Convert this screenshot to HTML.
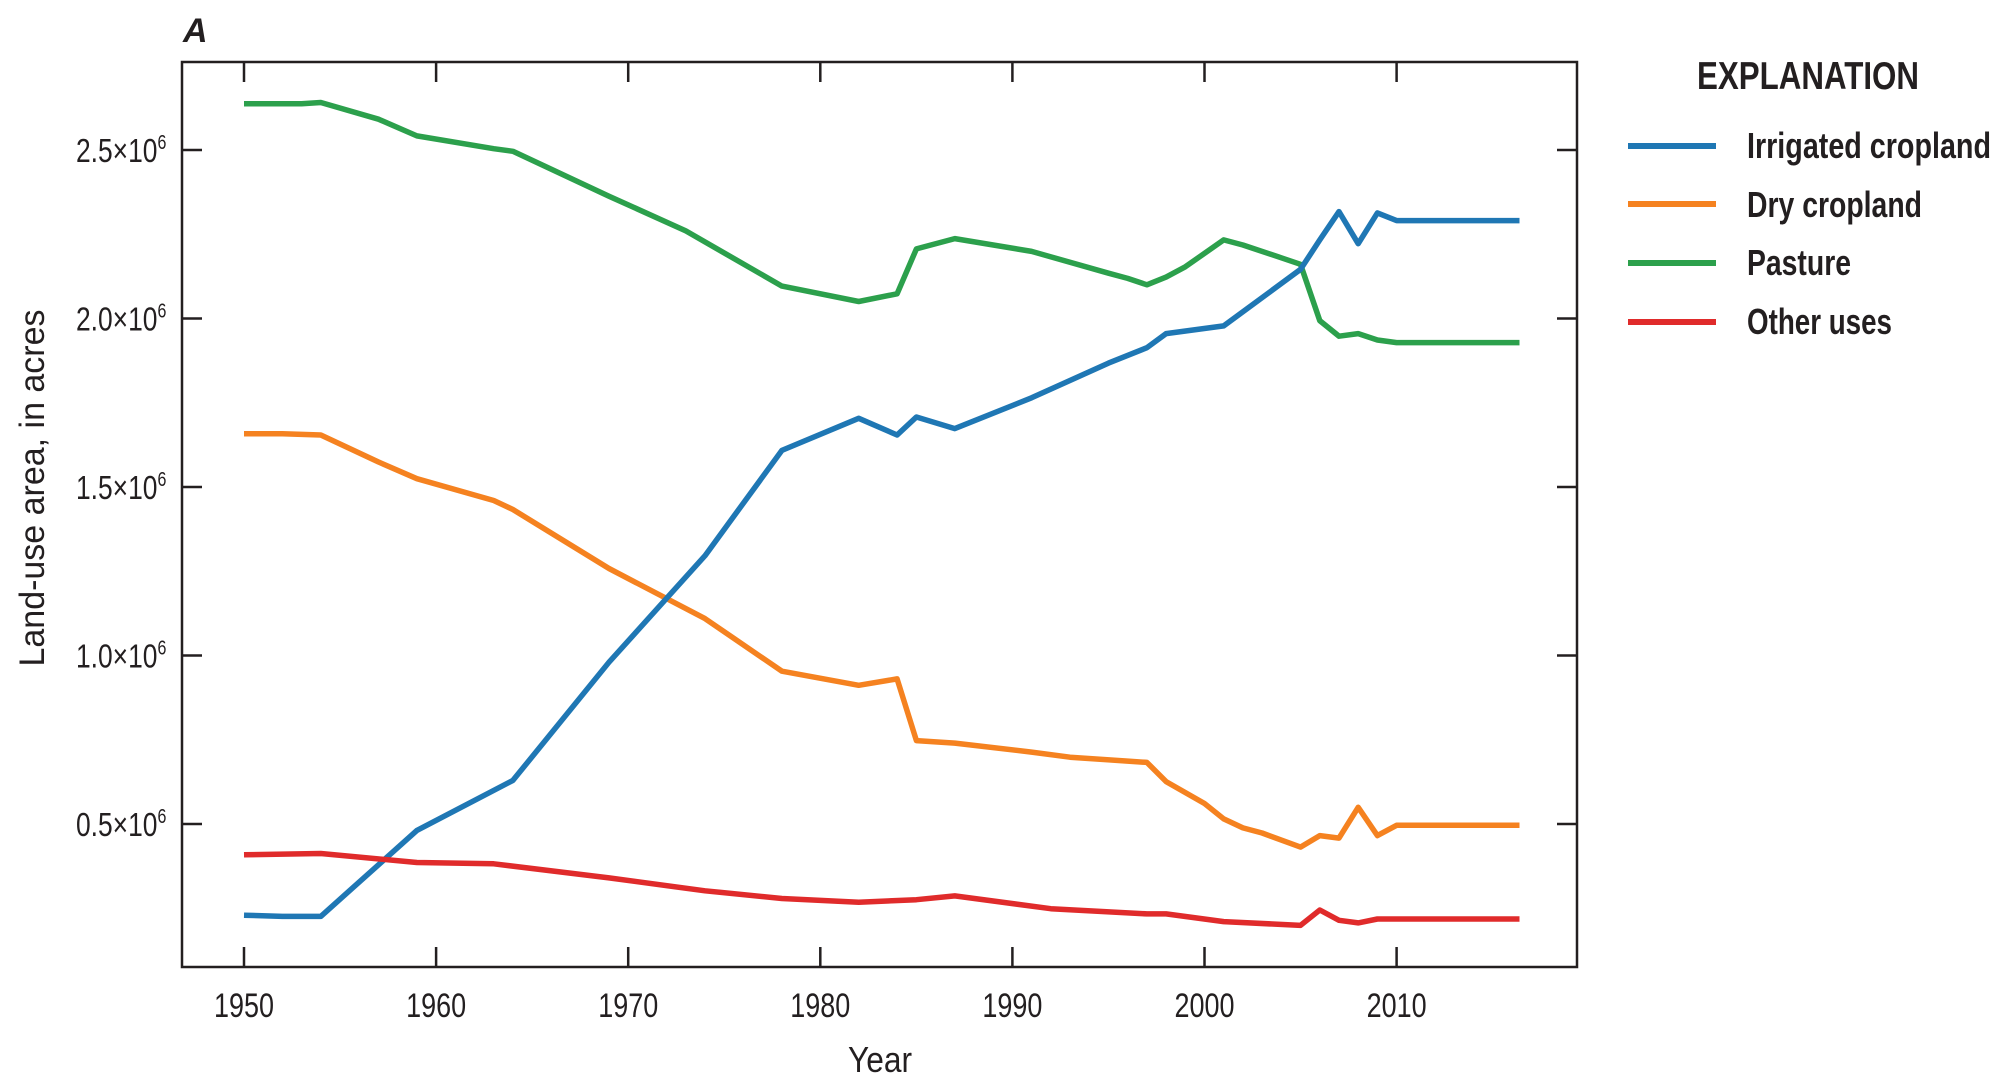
<!DOCTYPE html>
<html><head><meta charset="utf-8"><style>
html,body{margin:0;padding:0;background:#fff;}
svg{display:block;}
text{font-family:"Liberation Sans Narrow","Liberation Sans",sans-serif;fill:#231f20;}
</style></head><body>
<svg id="s" width="2013" height="1086" viewBox="0 0 2013 1086" xmlns="http://www.w3.org/2000/svg">
<text x="183" y="42" font-size="34" font-weight="bold" font-style="italic">A</text>
<rect x="182" y="62" width="1395" height="905" fill="none" stroke="#231f20" stroke-width="2.5"/>
<g id="ticks" stroke="#231f20" stroke-width="2.5"></g>
<g id="lbl"></g>
<text x="848" y="1072" font-size="36" textLength="64" lengthAdjust="spacingAndGlyphs">Year</text>
<text transform="translate(44,488) rotate(-90)" font-size="35" text-anchor="middle" textLength="357" lengthAdjust="spacingAndGlyphs">Land-use area, in acres</text>
<text x="1697" y="89" font-size="39" font-weight="bold" textLength="222" lengthAdjust="spacingAndGlyphs">EXPLANATION</text>
<g stroke-width="6">
<line x1="1628" y1="146" x2="1716" y2="146" stroke="#1f77b4"/>
<line x1="1628" y1="204" x2="1716" y2="204" stroke="#f58220"/>
<line x1="1628" y1="263" x2="1716" y2="263" stroke="#2ca04c"/>
<line x1="1628" y1="322" x2="1716" y2="322" stroke="#e02b2b"/>
</g>
<g font-size="36" font-weight="bold">
<text x="1747" y="158" textLength="244" lengthAdjust="spacingAndGlyphs">Irrigated cropland</text>
<text x="1747" y="217" textLength="175" lengthAdjust="spacingAndGlyphs">Dry cropland</text>
<text x="1747" y="275" textLength="104" lengthAdjust="spacingAndGlyphs">Pasture</text>
<text x="1747" y="334" textLength="145" lengthAdjust="spacingAndGlyphs">Other uses</text>
</g>
<g id="series" fill="none" stroke-width="5.5" stroke-linejoin="round"></g>
</svg>
<script>
var NS="http://www.w3.org/2000/svg";
function X(yr){return 244+19.21*(yr-1950);}
function Y(dy){return 150+(dy-117)*(674/525);}
var t=document.getElementById('ticks'),l=document.getElementById('lbl');
function L(x1,y1,x2,y2){var ln=document.createElementNS(NS,'line');ln.setAttribute('x1',x1);ln.setAttribute('x2',x2);ln.setAttribute('y1',y1);ln.setAttribute('y2',y2);t.appendChild(ln);}
for(var yr=1950;yr<=2010;yr+=10){
 L(X(yr),967,X(yr),947);L(X(yr),62,X(yr),82);
 var tx=document.createElementNS(NS,'text');tx.setAttribute('x',X(yr)-30);tx.setAttribute('y',1017);tx.setAttribute('font-size','34');tx.setAttribute('textLength','60');tx.setAttribute('lengthAdjust','spacingAndGlyphs');tx.textContent=yr;l.appendChild(tx);
}
[2.5,2.0,1.5,1.0,0.5].forEach(function(v){
 var y=150+(2.5-v)*(824-150)/2.0;
 L(182,y,202,y);L(1557,y,1577,y);
 var tx=document.createElementNS(NS,'text');tx.setAttribute('x',76);tx.setAttribute('y',y+12);tx.setAttribute('font-size','33');
 tx.setAttribute('transform','translate(76,0) scale(0.8,1) translate(-76,0)');
 tx.innerHTML=v.toFixed(1)+'×10<tspan font-size="20" dy="-13">6</tspan>';l.appendChild(tx);
});
var E=2016.4;
var S={
"#1f77b4":[[1950,713],[1952,714],[1954,714],[1959,647],[1964,608],[1969,516],[1974,433],[1978,351],[1982,326],[1984,339],[1985,325],[1987,334],[1991,310],[1995,283],[1997,271],[1998,260],[2001,254],[2005,210],[2006,187],[2007,165],[2008,190],[2009,166],[2010,172],[E,172]],
"#f58220":[[1950,338],[1952,338],[1954,339],[1957,360],[1959,373],[1963,390],[1964,397],[1969,443],[1974,482],[1978,523],[1982,534],[1984,529],[1985,577],[1987,579],[1991,586],[1993,590],[1996,593],[1997,594],[1998,609],[2000,626],[2001,638],[2002,645],[2003,649],[2005,660],[2006,651],[2007,653],[2008,629],[2009,651],[2010,643],[E,643]],
"#2ca04c":[[1950,81],[1953,81],[1954,80],[1957,93],[1959,106],[1963,116],[1964,118],[1969,153],[1973,180],[1978,223],[1982,235],[1984,229],[1985,194],[1987,186],[1991,196],[1995,213],[1996,217],[1997,222],[1998,216],[1999,208],[2001,187],[2002,191],[2004,201],[2005,206],[2006,250],[2007,262],[2008,260],[2009,265],[2010,267],[E,267]],
"#e02b2b":[[1950,666],[1954,665],[1959,672],[1963,673],[1969,684],[1974,694],[1978,700],[1982,703],[1985,701],[1987,698],[1992,708],[1997,712],[1998,712],[2001,718],[2005,721],[2006,709],[2007,717],[2008,719],[2009,716],[E,716]]
};
var g=document.getElementById('series');
["#2ca04c","#f58220","#1f77b4","#e02b2b"].forEach(function(c){
 var p=document.createElementNS(NS,'polyline');
 p.setAttribute('points',S[c].map(function(a){return X(a[0]).toFixed(1)+','+Y(a[1]).toFixed(1);}).join(' '));
 p.setAttribute('stroke',c);g.appendChild(p);
});
</script>
</body></html>
